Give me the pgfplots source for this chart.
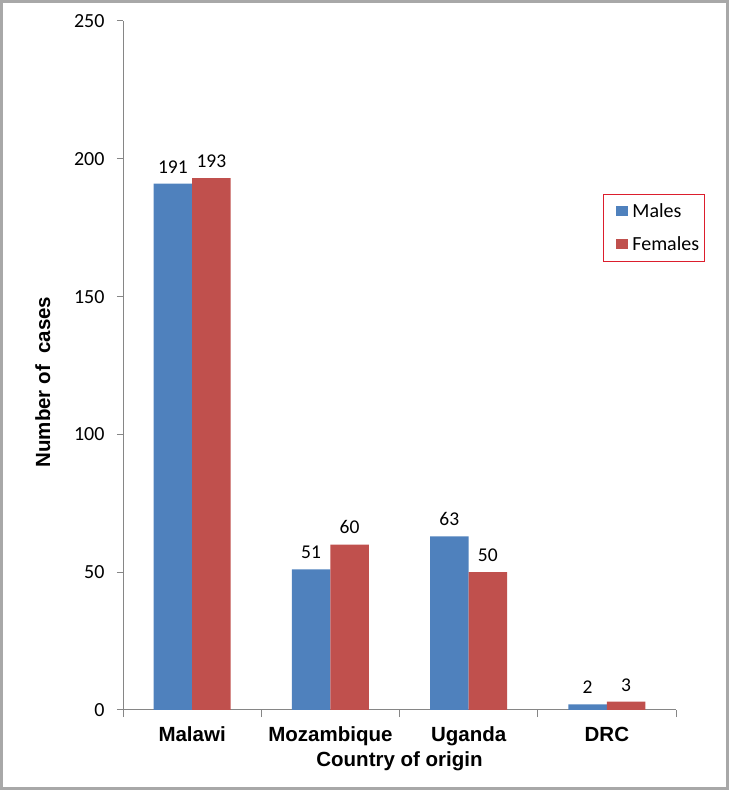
\documentclass[border=0pt]{standalone}
\usepackage{pgfplots}
\pgfplotsset{compat=1.18}
\usepackage{fontspec}
\setmainfont{Carlito}
\newfontfamily\arial{Liberation Sans}
\definecolor{mblue}{HTML}{4F81BD}
\definecolor{mred}{HTML}{C0504D}
\definecolor{axgray}{HTML}{868686}
\definecolor{framegray}{HTML}{A8A8A8}
\definecolor{legred}{RGB}{220,30,45}
\begin{document}
\begin{tikzpicture}[x=1pt,y=1pt]
\draw[line width=3pt, framegray] (1.5,1.5) rectangle (727.5,788.5);
\begin{axis}[
  at={(123pt,80pt)}, anchor=south west,
  scale only axis,
  width=553pt, height=689pt,
  ybar=0pt, bar width=38.5pt,
  xmin=-0.5, xmax=3.5,
  ymin=0, ymax=250,
  axis lines*=left,
  axis line style={axgray, line width=1pt},
  xtick={0,1,2,3},
  xticklabels={Malawi,Mozambique,Uganda,DRC},
  minor xtick={-0.5,0.5,1.5,2.5,3.5},
  major x tick style={draw=none},
  minor x tick style={axgray, line width=1pt},
  minor tick length=7pt,
  ytick={0,50,100,150,200,250},
  y tick style={axgray, line width=1pt},
  major tick length=6pt,
  tick align=outside,
  xticklabel style={font=\arial\bfseries\fontsize{20.5}{22}\selectfont, anchor=base, yshift=-25pt},
  yticklabel style={font=\fontsize{20}{22}\selectfont, xshift=-9pt},
  /pgf/number format/assume math mode=true,
  xlabel={Country of origin},
  xlabel style={font=\arial\bfseries\fontsize{20.5}{22}\selectfont, at={(axis description cs:0.5,-0.0827)}, anchor=base},
  ylabel={Number of\ \ cases},
  ylabel style={font=\arial\bfseries\fontsize{20.5}{22}\selectfont, at={(axis description cs:-0.145,0.476)}, anchor=center},
  nodes near coords,
  every node near coord/.append style={font=\fontsize{19.5}{21}\selectfont, black, anchor=south, yshift=7pt},
  legend style={at={(axis description cs:0.868,0.749)}, anchor=north west,
    draw=legred, line width=0.8pt, font=\fontsize{20}{22}\selectfont,
    row sep=14pt, inner xsep=3pt, inner ysep=7pt},
  legend cell align=left,
  legend image code/.code={\path (0pt,0pt) (24pt,0pt); \fill[#1] (10pt,-5pt) rectangle (22pt,5pt);},
]
\addplot[fill=mblue, draw=none] coordinates {(0,191) (1,51) (2,63) (3,2)};
\addplot[fill=mred, draw=none] coordinates {(0,193) (1,60) (2,50) (3,3)};
\legend{Males,Females}
\end{axis}
\end{tikzpicture}
\end{document}
